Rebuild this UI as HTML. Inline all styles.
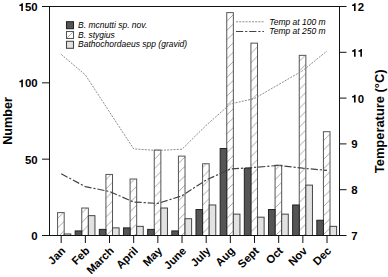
<!DOCTYPE html><html><head><meta charset="utf-8"><style>html,body{margin:0;padding:0;background:#fff;}svg{display:block;}text{font-family:"Liberation Sans",sans-serif;}</style></head><body>
<svg width="388" height="277" viewBox="0 0 388 277">
<defs><pattern id="h" patternUnits="userSpaceOnUse" width="9.4" height="9.4" patternTransform="translate(3.5,0)"><path d="M-1,10.4 L10.4,-1 M-1,1 L1,-1 M8.4,10.4 L10.4,8.4" stroke="#999" stroke-width="0.85"/></pattern><pattern id="g" patternUnits="userSpaceOnUse" width="2" height="2"><rect width="2" height="2" fill="#e4e4e4"/><rect width="1" height="1" fill="#d4d4d4"/></pattern></defs>
<rect width="388" height="277" fill="#fff"/>
<rect x="57.58" y="212.60" width="6.60" height="22.90" fill="url(#h)" stroke="#555" stroke-width="1"/>
<rect x="64.18" y="233.97" width="6.60" height="1.53" fill="#e2e2e2" stroke="#444" stroke-width="1"/>
<rect x="81.75" y="208.02" width="6.60" height="27.48" fill="url(#h)" stroke="#555" stroke-width="1"/>
<rect x="75.15" y="230.92" width="6.60" height="4.58" fill="#555" stroke="#222" stroke-width="1"/>
<rect x="88.35" y="215.65" width="6.60" height="19.85" fill="#e2e2e2" stroke="#444" stroke-width="1"/>
<rect x="105.92" y="174.43" width="6.60" height="61.07" fill="url(#h)" stroke="#555" stroke-width="1"/>
<rect x="99.32" y="229.39" width="6.60" height="6.11" fill="#555" stroke="#222" stroke-width="1"/>
<rect x="112.52" y="227.87" width="6.60" height="7.63" fill="#e2e2e2" stroke="#444" stroke-width="1"/>
<rect x="130.08" y="179.01" width="6.60" height="56.49" fill="url(#h)" stroke="#555" stroke-width="1"/>
<rect x="123.48" y="227.87" width="6.60" height="7.63" fill="#555" stroke="#222" stroke-width="1"/>
<rect x="136.68" y="226.34" width="6.60" height="9.16" fill="#e2e2e2" stroke="#444" stroke-width="1"/>
<rect x="154.25" y="150.01" width="6.60" height="85.49" fill="url(#h)" stroke="#555" stroke-width="1"/>
<rect x="147.65" y="229.39" width="6.60" height="6.11" fill="#555" stroke="#222" stroke-width="1"/>
<rect x="160.85" y="208.02" width="6.60" height="27.48" fill="#e2e2e2" stroke="#444" stroke-width="1"/>
<rect x="178.42" y="156.11" width="6.60" height="79.39" fill="url(#h)" stroke="#555" stroke-width="1"/>
<rect x="171.82" y="230.92" width="6.60" height="4.58" fill="#555" stroke="#222" stroke-width="1"/>
<rect x="185.02" y="218.71" width="6.60" height="16.79" fill="#e2e2e2" stroke="#444" stroke-width="1"/>
<rect x="202.58" y="163.75" width="6.60" height="71.75" fill="url(#h)" stroke="#555" stroke-width="1"/>
<rect x="195.98" y="209.55" width="6.60" height="25.95" fill="#555" stroke="#222" stroke-width="1"/>
<rect x="209.18" y="204.97" width="6.60" height="30.53" fill="#e2e2e2" stroke="#444" stroke-width="1"/>
<rect x="226.75" y="12.61" width="6.60" height="222.89" fill="url(#h)" stroke="#555" stroke-width="1"/>
<rect x="220.15" y="148.48" width="6.60" height="87.02" fill="#555" stroke="#222" stroke-width="1"/>
<rect x="233.35" y="214.13" width="6.60" height="21.37" fill="#e2e2e2" stroke="#444" stroke-width="1"/>
<rect x="250.92" y="43.14" width="6.60" height="192.36" fill="url(#h)" stroke="#555" stroke-width="1"/>
<rect x="244.32" y="168.33" width="6.60" height="67.17" fill="#555" stroke="#222" stroke-width="1"/>
<rect x="257.52" y="217.18" width="6.60" height="18.32" fill="#e2e2e2" stroke="#444" stroke-width="1"/>
<rect x="275.08" y="165.27" width="6.60" height="70.23" fill="url(#h)" stroke="#555" stroke-width="1"/>
<rect x="268.48" y="209.55" width="6.60" height="25.95" fill="#555" stroke="#222" stroke-width="1"/>
<rect x="281.68" y="214.13" width="6.60" height="21.37" fill="#e2e2e2" stroke="#444" stroke-width="1"/>
<rect x="299.25" y="55.35" width="6.60" height="180.15" fill="url(#h)" stroke="#555" stroke-width="1"/>
<rect x="292.65" y="204.97" width="6.60" height="30.53" fill="#555" stroke="#222" stroke-width="1"/>
<rect x="305.85" y="185.12" width="6.60" height="50.38" fill="#e2e2e2" stroke="#444" stroke-width="1"/>
<rect x="323.42" y="131.69" width="6.60" height="103.81" fill="url(#h)" stroke="#555" stroke-width="1"/>
<rect x="316.82" y="220.23" width="6.60" height="15.27" fill="#555" stroke="#222" stroke-width="1"/>
<rect x="330.02" y="226.34" width="6.60" height="9.16" fill="#e2e2e2" stroke="#444" stroke-width="1"/>
<polyline points="61.18,54.40 85.35,74.90 109.52,112.00 133.68,148.90 157.85,150.50 182.02,149.20 206.18,125.30 230.35,104.00 254.52,98.50 278.68,84.50 302.85,70.50 327.02,51.00" fill="none" stroke="#777" stroke-width="0.85" stroke-dasharray="2,1.2"/>
<polyline points="61.18,173.80 85.35,186.60 109.52,191.50 133.68,202.00 157.85,203.40 182.02,195.80 206.18,180.00 230.35,169.00 254.52,167.40 278.68,165.40 302.85,168.20 327.02,170.40" fill="none" stroke="#444" stroke-width="1.2" stroke-dasharray="7.2,1.9,2.2,1.9"/>
<path d="M49.5,6.5 H339.5 M49.5,6.0 V236.0 M339.5,6.0 V236.0 M49.0,235.5 H340.0" stroke="#111" stroke-width="1" fill="none"/>
<path d="M42.0,235.5 H49.5" stroke="#111" stroke-width="1"/>
<text x="31.26" y="240.00" font-size="11.4" font-weight="bold" style="font-kerning:none">0</text>
<path d="M42.0,159.16666666666669 H49.5" stroke="#111" stroke-width="1"/>
<text x="24.92" y="163.67" font-size="11.4" font-weight="bold" style="font-kerning:none">50</text>
<path d="M42.0,82.83333333333334 H49.5" stroke="#111" stroke-width="1"/>
<text x="18.58" y="87.33" font-size="11.4" font-weight="bold" style="font-kerning:none"> 00</text><path transform="translate(18.58,87.33) scale(0.00557,-0.00557)" d="M487,0 L774,0 L774,1409 L545,1409 Q495,1275 410,1215 Q310,1140 141,1120 L141,920 L487,920 Z" fill="#000"/>
<path d="M42.0,6.5 H49.5" stroke="#111" stroke-width="1"/>
<text x="18.58" y="11.00" font-size="11.4" font-weight="bold" style="font-kerning:none"> 50</text><path transform="translate(18.58,11.00) scale(0.00557,-0.00557)" d="M487,0 L774,0 L774,1409 L545,1409 Q495,1275 410,1215 Q310,1140 141,1120 L141,920 L487,920 Z" fill="#000"/>
<path d="M339.5,235.5 H346.5" stroke="#111" stroke-width="1"/>
<text x="351.30" y="240.00" font-size="11.4" font-weight="bold" style="font-kerning:none">7</text>
<path d="M339.5,189.7 H346.5" stroke="#111" stroke-width="1"/>
<text x="351.30" y="194.20" font-size="11.4" font-weight="bold" style="font-kerning:none">8</text>
<path d="M339.5,143.9 H346.5" stroke="#111" stroke-width="1"/>
<text x="351.30" y="148.40" font-size="11.4" font-weight="bold" style="font-kerning:none">9</text>
<path d="M339.5,98.1 H346.5" stroke="#111" stroke-width="1"/>
<text x="351.30" y="102.60" font-size="11.4" font-weight="bold" style="font-kerning:none"> 0</text><path transform="translate(351.30,102.60) scale(0.00557,-0.00557)" d="M487,0 L774,0 L774,1409 L545,1409 Q495,1275 410,1215 Q310,1140 141,1120 L141,920 L487,920 Z" fill="#000"/>
<path d="M339.5,52.30000000000001 H346.5" stroke="#111" stroke-width="1"/>
<text x="351.30" y="56.80" font-size="11.4" font-weight="bold" style="font-kerning:none">  </text><path transform="translate(351.30,56.80) scale(0.00557,-0.00557)" d="M487,0 L774,0 L774,1409 L545,1409 Q495,1275 410,1215 Q310,1140 141,1120 L141,920 L487,920 Z" fill="#000"/><path transform="translate(357.64,56.80) scale(0.00557,-0.00557)" d="M487,0 L774,0 L774,1409 L545,1409 Q495,1275 410,1215 Q310,1140 141,1120 L141,920 L487,920 Z" fill="#000"/>
<path d="M339.5,6.5 H346.5" stroke="#111" stroke-width="1"/>
<text x="351.30" y="11.00" font-size="11.4" font-weight="bold" style="font-kerning:none"> 2</text><path transform="translate(351.30,11.00) scale(0.00557,-0.00557)" d="M487,0 L774,0 L774,1409 L545,1409 Q495,1275 410,1215 Q310,1140 141,1120 L141,920 L487,920 Z" fill="#000"/>
<path d="M61.18,235.5 V243.0" stroke="#111" stroke-width="1"/>
<text transform="translate(66.18,251.50) rotate(-45)" font-size="11.2" font-weight="bold" text-anchor="end">Jan</text>
<path d="M85.35,235.5 V243.0" stroke="#111" stroke-width="1"/>
<text transform="translate(90.35,251.50) rotate(-45)" font-size="11.2" font-weight="bold" text-anchor="end">Feb</text>
<path d="M109.52,235.5 V243.0" stroke="#111" stroke-width="1"/>
<text transform="translate(114.52,251.50) rotate(-45)" font-size="11.2" font-weight="bold" text-anchor="end">March</text>
<path d="M133.68,235.5 V243.0" stroke="#111" stroke-width="1"/>
<text transform="translate(138.68,251.50) rotate(-45)" font-size="11.2" font-weight="bold" text-anchor="end">April</text>
<path d="M157.85,235.5 V243.0" stroke="#111" stroke-width="1"/>
<text transform="translate(162.85,251.50) rotate(-45)" font-size="11.2" font-weight="bold" text-anchor="end">May</text>
<path d="M182.02,235.5 V243.0" stroke="#111" stroke-width="1"/>
<text transform="translate(187.02,251.50) rotate(-45)" font-size="11.2" font-weight="bold" text-anchor="end">June</text>
<path d="M206.18,235.5 V243.0" stroke="#111" stroke-width="1"/>
<text transform="translate(211.18,251.50) rotate(-45)" font-size="11.2" font-weight="bold" text-anchor="end">July</text>
<path d="M230.35,235.5 V243.0" stroke="#111" stroke-width="1"/>
<text transform="translate(235.35,251.50) rotate(-45)" font-size="11.2" font-weight="bold" text-anchor="end">Aug</text>
<path d="M254.52,235.5 V243.0" stroke="#111" stroke-width="1"/>
<text transform="translate(259.52,251.50) rotate(-45)" font-size="11.2" font-weight="bold" text-anchor="end">Sept</text>
<path d="M278.68,235.5 V243.0" stroke="#111" stroke-width="1"/>
<text transform="translate(283.68,251.50) rotate(-45)" font-size="11.2" font-weight="bold" text-anchor="end">Oct</text>
<path d="M302.85,235.5 V243.0" stroke="#111" stroke-width="1"/>
<text transform="translate(307.85,251.50) rotate(-45)" font-size="11.2" font-weight="bold" text-anchor="end">Nov</text>
<path d="M327.02,235.5 V243.0" stroke="#111" stroke-width="1"/>
<text transform="translate(332.02,251.50) rotate(-45)" font-size="11.2" font-weight="bold" text-anchor="end">Dec</text>
<text transform="translate(11.9,121) rotate(-90)" font-size="12.6" font-weight="bold" text-anchor="middle">Number</text>
<text transform="translate(384.3,121.3) rotate(-90)" font-size="12.9" font-weight="bold" text-anchor="middle">Temperature (°C)</text>
<rect x="66.5" y="21.70" width="7" height="7" fill="#555" stroke="#222" stroke-width="1.05"/>
<text x="78" y="27.80" font-size="8.5" font-style="italic">B. mcnutti sp. nov.</text>
<rect x="66.5" y="31.50" width="7" height="7" fill="#fff" stroke="#555" stroke-width="1.05"/>
<path d="M67.2,37.80 L72.8,32.20" stroke="#999" stroke-width="0.85"/>
<text x="78" y="37.60" font-size="8.5" font-style="italic">B. stygius</text>
<rect x="66.5" y="41.30" width="7" height="7" fill="#e2e2e2" stroke="#444" stroke-width="1.05"/>
<text x="78" y="47.40" font-size="8.5" font-style="italic">Bathochordaeus spp (gravid)</text>
<path d="M236,21.8 H264" stroke="#777" stroke-width="0.85" stroke-dasharray="2,1.2"/>
<path d="M236,31.5 H264" stroke="#444" stroke-width="1.2" stroke-dasharray="7.2,1.9,2.2,1.9"/>
<text x="269.3" y="24.5" font-size="8.5" font-style="italic">Temp at 100 m</text>
<text x="269.3" y="34.4" font-size="8.5" font-style="italic">Temp at 250 m</text>
</svg></body></html>
